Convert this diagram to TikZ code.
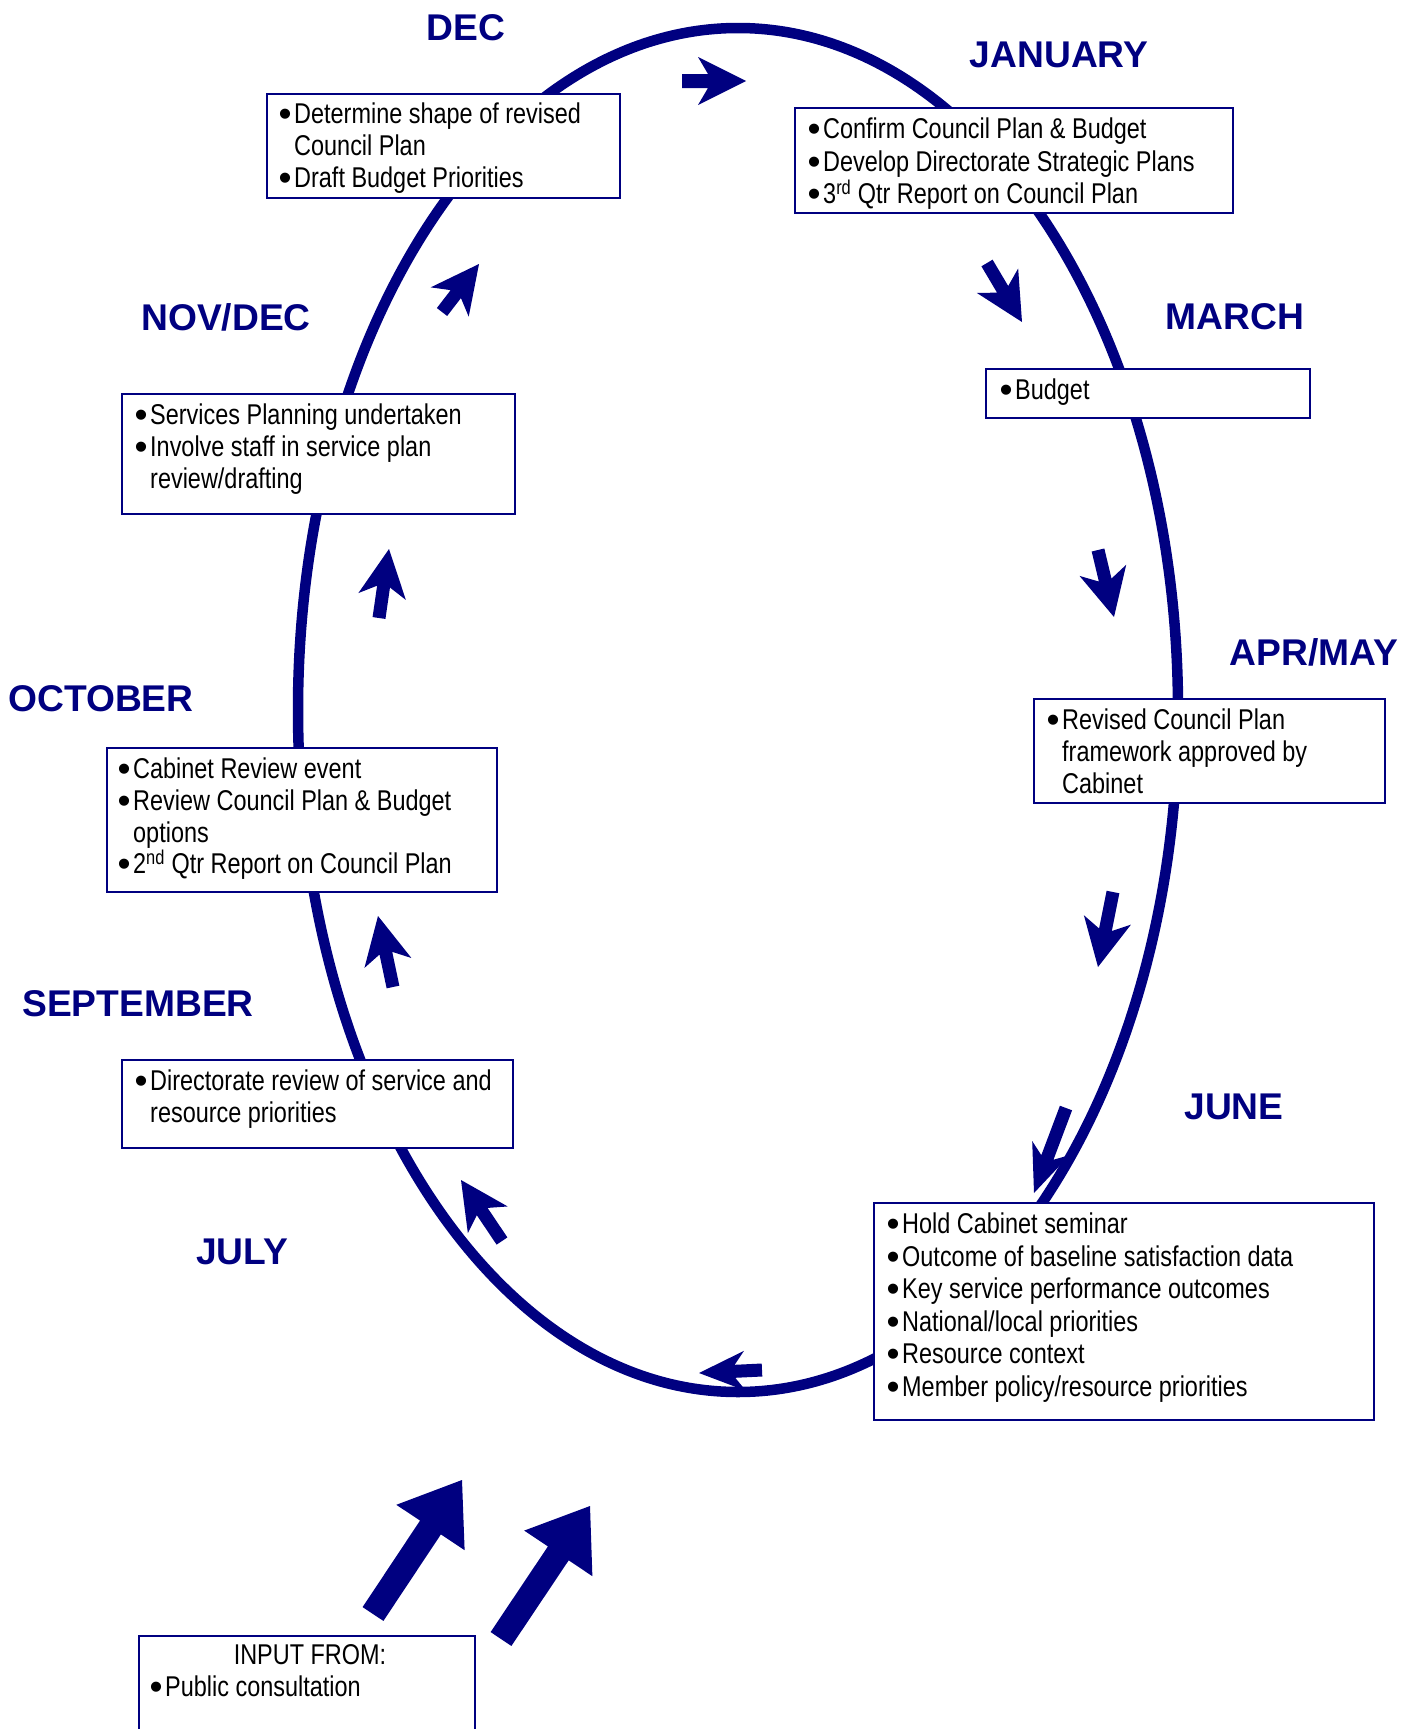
\documentclass[tikz,border=0pt]{standalone}
\usepackage{fontspec}
\usepackage{graphicx}
\setmainfont{Liberation Sans}
\newfontfamily\narrowfont[FakeStretch=0.82]{Liberation Sans}
\newfontfamily\bulfont{Liberation Sans}
\usetikzlibrary{calc}
\definecolor{navy}{RGB}{0,0,128}
\newcommand\blt{\makebox[17pt][r]{\raisebox{-3pt}{\bulfont\scalebox{1.3}{\textbullet}}\hspace{2.5pt}}}
\newcommand\ind{\hspace*{17pt}}
% block arrow: tail, tip, shaft half width, head half width, head length, junction distance from tip
\newcommand\blockarr[6]{%
 \fill[navy] ($(#1)!#3pt!90:(#2)$) -- ($(#2)!#6pt!(#1)!#3pt!-90:(#1)$) -- ($(#2)!#5pt!(#1)!#4pt!-90:(#1)$) -- (#2) -- ($(#2)!#5pt!(#1)!#4pt!90:(#1)$) -- ($(#2)!#6pt!(#1)!#3pt!90:(#1)$) -- ($(#1)!#3pt!-90:(#2)$) -- cycle;}
\tikzset{
 box/.style={draw=navy, line width=2pt, fill=white, anchor=north west, inner sep=0pt},
 txt/.style={anchor=north west, inner sep=0pt, align=left, font=\narrowfont\fontsize{28.6}{31.6}\selectfont},
 wide/.style={font=\narrowfont\fontsize{28.6}{32.5}\selectfont},
 month/.style={text=navy, inner sep=0pt, font=\bfseries\fontsize{37.2}{40}\selectfont},
 cycleline/.style={draw=navy, line width=10.5pt},
}
\begin{document}
\begin{tikzpicture}[x=1pt,y=-1pt]
\useasboundingbox (0,0) rectangle (1404,1729);
\clip (0,0) rectangle (1404,1729);
% cycle
\coordinate (ctr) at (738,710);
\draw[cycleline] (ctr) ellipse [x radius=440pt, y radius=682pt];
% boxes
\node[box, minimum width=353pt, minimum height=104pt] (b1) at (266,93) {};
\node[box, minimum width=438pt, minimum height=105pt] (b2) at (794,107) {};
\node[box, minimum width=324pt, minimum height=49pt] (b3) at (985,368) {};
\node[box, minimum width=351pt, minimum height=104pt] (b4) at (1033,698) {};
\node[box, minimum width=500pt, minimum height=217pt] (b5) at (873,1202) {};
\node[box, minimum width=391pt, minimum height=88pt] (b6) at (121,1059) {};
\node[box, minimum width=390pt, minimum height=144pt] (b7) at (106,747) {};
\node[box, minimum width=393pt, minimum height=120pt] (b8) at (121,393) {};
\node[box, minimum width=336pt, minimum height=110pt] (b9) at (138,1635) {};
% texts
\node[txt] (t1) at (277,103) {\blt Determine shape of revised\\\ind Council Plan\\\blt Draft Budget Priorities};
\node[txt, wide] (t2) at (806,118) {\blt Confirm Council Plan \& Budget\\\blt Develop Directorate Strategic Plans\\\blt 3\textsuperscript{rd} Qtr Report on Council Plan};
\node[txt] (t3) at (998,379) {\blt Budget};
\node[txt] (t4) at (1045,709) {\blt Revised Council Plan\\\ind framework approved by\\\ind Cabinet};
\node[txt, wide] (t5) at (885,1213) {\blt Hold Cabinet seminar\\\blt Outcome of baseline satisfaction data\\\blt Key service performance outcomes\\\blt National/local priorities\\\blt Resource context\\\blt Member policy/resource priorities};
\node[txt] (t6) at (133,1070) {\blt Directorate review of service and\\\ind resource priorities};
\node[txt] (t7) at (116,758) {\blt Cabinet Review event\\\blt Review Council Plan \& Budget\\\ind options\\\blt 2\textsuperscript{nd} Qtr Report on Council Plan};
\node[txt] (t8) at (133,404) {\blt Services Planning undertaken\\\blt Involve staff in service plan\\\ind review/drafting};
\node[txt, anchor=north] (t9a) at (310,1644) {INPUT FROM:};
\node[txt] (t9b) at (148,1676) {\blt Public consultation};
% month labels
\node[month] (mdec) at (466,28) {DEC};
\node[month] (mjan) at (1059,55) {JANUARY};
\node[month] (mmar) at (1235,317) {MARCH};
\node[month] (mapr) at (1314,652) {APR/MAY};
\node[month] (mjun) at (1234,1107) {JUNE};
\node[month] (mjul) at (242,1252) {JULY};
\node[month] (msep) at (138,1004) {SEPTEMBER};
\node[month] (moct) at (101,699) {OCTOBER};
\node[month] (mnov) at (226,317) {NOV/DEC};
% arrow coordinates
\coordinate (a1s) at (682,81);   \coordinate (a1e) at (746,81);
\coordinate (a2s) at (987,263);  \coordinate (a2e) at (1022,322);
\coordinate (a3s) at (1098,550); \coordinate (a3e) at (1114,617);
\coordinate (a4s) at (1113,892); \coordinate (a4e) at (1098,967);
\coordinate (a5s) at (1066,1108);\coordinate (a5e) at (1034,1193);
\coordinate (a6s) at (762,1370); \coordinate (a6e) at (699,1373);
\coordinate (a7s) at (502,1241); \coordinate (a7e) at (461,1180);
\coordinate (a8s) at (393,987);  \coordinate (a8e) at (378,916);
\coordinate (a9s) at (379,618);  \coordinate (a9e) at (389,549);
\coordinate (a10s) at (442,312); \coordinate (a10e) at (479,264);
\coordinate (B1s) at (373,1614); \coordinate (B1e) at (462,1480);
\coordinate (B2s) at (501,1639); \coordinate (B2e) at (590,1506);
\blockarr{a1s}{a1e}{7}{24}{48}{38}
\blockarr{a2s}{a2e}{6.5}{24}{48}{38}
\blockarr{a3s}{a3e}{6.5}{24}{48}{38}
\blockarr{a4s}{a4e}{6.5}{24}{48}{38}
\blockarr{a5s}{a5e}{6.5}{20}{48}{38}
\blockarr{a6s}{a6e}{6.5}{20}{46}{36}
\blockarr{a7s}{a7e}{6.5}{24}{48}{38}
\blockarr{a8s}{a8e}{6.5}{24}{48}{38}
\blockarr{a9s}{a9e}{6.5}{24}{48}{38}
\blockarr{a10s}{a10e}{6.5}{24}{48}{38}
\blockarr{B1s}{B1e}{12.5}{41}{57}{57}
\blockarr{B2s}{B2e}{12.5}{41}{57}{57}
\end{tikzpicture}
\end{document}
